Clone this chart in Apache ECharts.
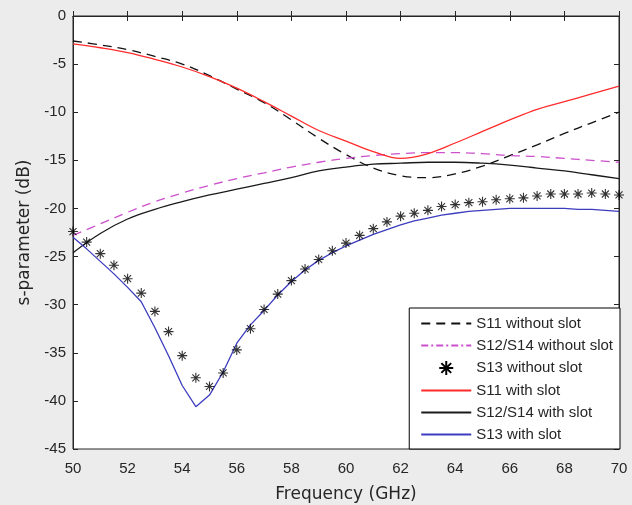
<!DOCTYPE html>
<html>
<head>
<meta charset="utf-8">
<script src="https://cdn.jsdelivr.net/npm/echarts@6/dist/echarts.min.js"></script>
<style>
  html, body { margin: 0; padding: 0; background: #ececec; }
  #main { width: 632px; height: 505px; }
</style>
</head>
<body>
<div id="main"></div>
<script>
// frequency points (GHz)
var freqCoarse = [50, 51, 52, 53, 54, 55, 56, 57, 58, 59, 60, 61, 62, 63, 64, 65, 66, 67, 68, 69, 70];
var freqFine = [50, 50.5, 51, 51.5, 52, 52.5, 53, 53.5, 54, 54.5, 55, 55.5, 56, 56.5, 57, 57.5, 58, 58.5, 59, 59.5,
  60, 60.5, 61, 61.5, 62, 62.5, 63, 63.5, 64, 64.5, 65, 65.5, 66, 66.5, 67, 67.5, 68, 68.5, 69, 69.5, 70];

// s-parameters (dB)
var s11NoSlot = [-2.6, -3.0, -3.5, -4.2, -5.0, -6.2, -7.6, -9.0, -10.8, -12.7, -14.4, -15.8, -16.6, -16.8, -16.4, -15.6, -14.5, -13.4, -12.2, -11.1, -10.0];
var s12NoSlot = [-22.8, -21.6, -20.4, -19.3, -18.4, -17.6, -16.9, -16.3, -15.7, -15.2, -14.8, -14.5, -14.3, -14.2, -14.2, -14.3, -14.5, -14.6, -14.8, -15.0, -15.2];
var s13NoSlot = [-22.4, -23.5, -24.7, -25.9, -27.3, -28.8, -30.7, -32.8, -35.3, -37.6, -38.5, -37.1, -34.7, -32.5, -30.5, -28.9, -27.5, -26.3, -25.3, -24.4,
  -23.6, -22.8, -22.1, -21.4, -20.8, -20.5, -20.2, -19.8, -19.6, -19.4, -19.3, -19.1, -19.0, -18.9, -18.7, -18.5, -18.5, -18.5, -18.4, -18.5, -18.6];
var s11Slot = [-2.9, -3.3, -3.8, -4.5, -5.3, -6.3, -7.5, -8.9, -10.4, -11.9, -13.0, -14.1, -14.8, -14.3, -13.2, -12.0, -10.8, -9.7, -8.9, -8.1, -7.3];
var s12Slot = [-24.6, -22.6, -21.1, -20.1, -19.3, -18.6, -18.0, -17.4, -16.8, -16.1, -15.7, -15.4, -15.3, -15.2, -15.2, -15.3, -15.5, -15.8, -16.1, -16.5, -16.9];
var s13Slot = [-23.0, -24.2, -25.5, -26.8, -28.2, -29.7, -32.4, -35.3, -38.4, -40.6, -39.4, -37.0, -34.0, -32.1, -30.6, -29.0, -27.6, -26.4, -25.4, -24.6,
  -23.9, -23.3, -22.7, -22.2, -21.7, -21.3, -21.0, -20.7, -20.5, -20.3, -20.2, -20.1, -20.0, -20.0, -20.0, -20.0, -20.0, -20.1, -20.1, -20.2, -20.3];

var seriesNames = ['S11 without slot', 'S12/S14 without slot', 'S13 without slot', 'S11 with slot', 'S12/S14 with slot', 'S13 with slot'];

function pairs(xs, ys) {
  return xs.map(function (x, i) { return [x, ys[i]]; });
}

var asterisk = 'path://M0,-5L0,5M-5,0L5,0M-3.5,-3.5L3.5,3.5M-3.5,3.5L3.5,-3.5';
var axisColor = '#262626';
var font = 'Liberation Sans, Arial, sans-serif';
var nameFont = 'DejaVu Sans, sans-serif';

var chart = echarts.init(document.getElementById('main'));

function lineSeries(name, xs, ys, color, type, smooth) {
  return {
    name: name,
    type: 'line',
    data: pairs(xs, ys),
    symbol: 'none',
    smooth: smooth,
    lineStyle: { color: color, width: 1.3, type: type },
    itemStyle: { color: color },
    z: 3
  };
}

// legend entries: hide the symbol for lines, keep it for the asterisks
var legendData = seriesNames.map(function (n, i) {
  var item = { name: n };
  if (i === 2) item.itemStyle = { opacity: 1 };
  if (i === 1) item.lineStyle = { type: [7, 3, 2, 3] };
  return item;
});

var option = {
  backgroundColor: '#ececec',
  animation: false,
  textStyle: { fontFamily: font },
  grid: {
    left: 73, right: 13, top: 16, bottom: 56,
    outerBoundsMode: 'none',
    show: true, backgroundColor: '#ffffff', borderColor: axisColor, borderWidth: 1
  },
  legend: {
    orient: 'vertical',
    right: 12, bottom: 56,
    data: legendData,
    backgroundColor: '#ffffff',
    borderColor: '#000000',
    borderWidth: 1,
    padding: [8, 7, 7, 11],
    itemWidth: 50,
    itemHeight: 14,
    itemGap: 7,
    itemStyle: { opacity: 0 },
    textStyle: { fontSize: 15, color: axisColor, fontFamily: font }
  },
  xAxis: [{
    type: 'value', min: 50, max: 70, interval: 2,
    name: 'Frequency (GHz)', nameLocation: 'middle', nameGap: 37,
    nameTextStyle: { fontSize: 17, color: axisColor, fontFamily: nameFont },
    axisLine: { lineStyle: { color: axisColor } },
    axisTick: { inside: true, length: 5, lineStyle: { color: axisColor } },
    axisLabel: { fontSize: 15, color: axisColor, margin: 12 },
    splitLine: { show: false }
  }, {
    type: 'value', position: 'top', min: 50, max: 70, interval: 2,
    axisLine: { lineStyle: { color: axisColor } },
    axisTick: { inside: true, length: 5, lineStyle: { color: axisColor } },
    axisLabel: { show: false },
    splitLine: { show: false }
  }],
  yAxis: [{
    type: 'value', min: -45, max: 0, interval: 5,
    name: 's-parameter (dB)', nameLocation: 'middle', nameGap: 27,
    nameTextStyle: { fontSize: 17, color: axisColor, fontFamily: nameFont },
    axisLine: { show: true, lineStyle: { color: axisColor } },
    axisTick: { show: true, inside: true, length: 5, lineStyle: { color: axisColor } },
    axisLabel: { fontSize: 15, color: axisColor, margin: 7 },
    splitLine: { show: false }
  }, {
    type: 'value', position: 'right', min: -45, max: 0, interval: 5,
    axisLine: { show: true, lineStyle: { color: axisColor } },
    axisTick: { show: true, inside: true, length: 5, lineStyle: { color: axisColor } },
    axisLabel: { show: false },
    splitLine: { show: false }
  }],
  series: [
    lineSeries(seriesNames[0], freqCoarse, s11NoSlot, '#111111', [9, 6], 0.4),
    lineSeries(seriesNames[1], freqCoarse, s12NoSlot, '#cc4fcc', [9, 6], 0.4),
    {
      name: seriesNames[2],
      type: 'scatter',
      data: pairs(freqFine, s13NoSlot),
      symbol: asterisk,
      symbolSize: 10,
      itemStyle: { color: 'rgba(0,0,0,0)', borderColor: '#000000', borderWidth: 1.1 },
      z: 4
    },
    lineSeries(seriesNames[3], freqCoarse, s11Slot, '#ff2b2b', 'solid', 0.4),
    lineSeries(seriesNames[4], freqCoarse, s12Slot, '#1a1a1a', 'solid', 0.4),
    lineSeries(seriesNames[5], freqFine, s13Slot, '#3c3cbf', 'solid', false)
  ]
};

chart.setOption(option);
</script>
</body>
</html>
